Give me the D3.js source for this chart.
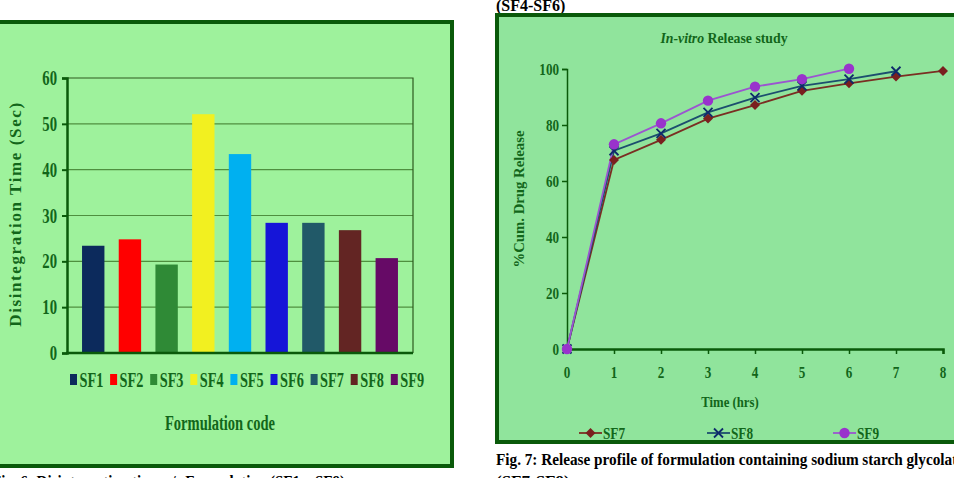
<!DOCTYPE html>
<html><head><meta charset="utf-8">
<script src="https://cdn.jsdelivr.net/npm/d3@7"></script>
<style>
html,body{margin:0;padding:0;background:#fff;overflow:hidden}
text{font-family:"Liberation Serif","Times New Roman",serif;font-weight:bold}
</style></head>
<body>
<svg id="c" width="954" height="478"></svg>
<script>
// ---------- data: left bar chart ----------
const barCategories = ["SF1","SF2","SF3","SF4","SF5","SF6","SF7","SF8","SF9"];
const disintegrationTime = [23.4, 24.8, 19.3, 52.1, 43.4, 28.4, 28.4, 26.8, 20.7];
const barColors = ["#0c2a5c","#ff0000","#2f8a36","#f2f020","#00b0f0","#1515d8","#215968","#632523","#660a66"];
const barYTicks = [0,10,20,30,40,50,60];

// ---------- data: right line chart ----------
const timeHrs = [0,1,2,3,4,5,6,7,8];
const sf7 = [0, 67.5, 74.7, 82.3, 87.1, 92.2, 94.9, 97.3, 99.3];
const sf8 = [0, 70.8, 77.0, 84.5, 89.8, 94.0, 96.4, 99.2];
const sf9 = [0, 73.1, 80.6, 88.7, 93.7, 96.4, 100.1];
const lineSeriesNames = ["SF7","SF8","SF9"];
const lineYTicks = [0,20,40,60,80,100];
const lineXTicks = [0,1,2,3,4,5,6,7,8];

const svg = d3.select("#c");
const dark = "#0a5a0a";
const txt = "#12661a";

function ctext(g, x, y, s, opts) {
  const o = Object.assign({size:16, sx:0.75, anchor:"start", fill:txt, rot:0}, opts||{});
  const t = g.append("text")
    .attr("transform", `translate(${x},${y}) rotate(${o.rot}) scale(${o.sx},1)`)
    .attr("text-anchor", o.anchor)
    .attr("font-size", o.size)
    .attr("fill", o.fill)
    .text(s);
  if (o.ls) t.attr("letter-spacing", o.ls);
  return t;
}

// ================= LEFT CHART =================
const L = svg.append("g");
L.append("rect").attr("x",-6).attr("y",22).attr("width",458).attr("height",444)
  .attr("fill","#9ef29c").attr("stroke",dark).attr("stroke-width",4);

const bx = d3.scaleBand().domain(barCategories).range([67,413]).paddingInner(0.39).paddingOuter(0.41);
const by = d3.scaleLinear().domain([0,60]).range([353,78]);

L.append("g").selectAll("line").data(barYTicks.filter(d=>d>0 && d<60)).join("line")
  .attr("x1",67).attr("x2",413).attr("y1",d=>by(d)).attr("y2",d=>by(d))
  .attr("stroke","#4f8f3f").attr("stroke-width",1.2);
L.append("path").attr("d",`M67,${by(60)}H413V${by(0)}`).attr("fill","none").attr("stroke","#2e5a1e").attr("stroke-width",1.2);

L.append("g").selectAll("rect").data(barCategories).join("rect")
  .attr("x",d=>bx(d)).attr("width",bx.bandwidth())
  .attr("y",(d,i)=>by(disintegrationTime[i]))
  .attr("height",(d,i)=>by(0)-by(disintegrationTime[i]))
  .attr("fill",(d,i)=>barColors[i]);

const yAxL = L.append("g").attr("transform","translate(67,0)")
  .call(d3.axisLeft(by).tickValues(barYTicks).tickSize(5).tickFormat(""));
yAxL.select(".domain").attr("stroke",dark).attr("stroke-width",2.5);
yAxL.selectAll(".tick line").attr("stroke",dark).attr("stroke-width",2);
barYTicks.forEach(v=>ctext(L,57,by(v)+7,String(v),{size:21,sx:0.7,anchor:"end"}));
L.append("line").attr("x1",66).attr("x2",413).attr("y1",by(0)).attr("y2",by(0))
  .attr("stroke",dark).attr("stroke-width",2.5);

ctext(L,21,214,"Disintegration Time (Sec)",{size:17,sx:1,anchor:"middle",rot:-90,ls:1.6});
barCategories.forEach((c,i)=>{
  const x = 70 + i*40.1;
  L.append("rect").attr("x",x).attr("y",374).attr("width",7).attr("height",11).attr("fill",barColors[i]);
  ctext(L,x+9.5,387,c,{size:21,sx:0.68});
});
ctext(L,220,430,"Formulation code",{size:22,sx:0.66,anchor:"middle"});
L.append("text").attr("x",-8).attr("y",487).attr("font-size",16).attr("fill","#000")
  .attr("textLength",353).attr("lengthAdjust","spacingAndGlyphs")
  .text("Fig. 6: Disintegration time v/s Formulation (SF1 – SF9)");

// ================= RIGHT CHART =================
const R = svg.append("g");
R.append("text").attr("x",496).attr("y",11).attr("font-size",16).attr("fill","#000").text("(SF4-SF6)");
R.append("rect").attr("x",497).attr("y",15).attr("width",480).attr("height",427)
  .attr("fill","#90e49c").attr("stroke",dark).attr("stroke-width",4);

const lx = d3.scaleLinear().domain([0,8]).range([567,943]);
const ly = d3.scaleLinear().domain([0,100]).range([349,69]);

const tt = R.append("text").attr("transform","translate(724,43) scale(0.92,1)")
  .attr("text-anchor","middle").attr("font-size",15).attr("fill",txt);
tt.append("tspan").attr("font-style","italic").text("In-vitro");
tt.append("tspan").text(" Release study");

const yAxR = R.append("g").attr("transform",`translate(${lx(0)},0)`)
  .call(d3.axisLeft(ly).tickValues(lineYTicks).tickSize(5).tickFormat(""));
yAxR.select(".domain").attr("stroke",dark).attr("stroke-width",1.5);
yAxR.selectAll(".tick line").attr("stroke",dark).attr("stroke-width",1.5);
lineYTicks.forEach(v=>ctext(R,559,ly(v)+5.5,String(v),{size:16,sx:0.82,anchor:"end"}));

const xAxR = R.append("g").attr("transform",`translate(0,${ly(0)})`)
  .call(d3.axisBottom(lx).tickValues(lineXTicks).tickSize(5).tickFormat(""));
xAxR.select(".domain").attr("stroke",dark).attr("stroke-width",2.5);
xAxR.selectAll(".tick line").attr("stroke",dark).attr("stroke-width",1.5);
lineXTicks.forEach(v=>ctext(R,lx(v),378,String(v),{size:16,sx:0.82,anchor:"middle"}));

ctext(R,730,407,"Time (hrs)",{size:15,sx:0.85,anchor:"middle"});
R.append("text").attr("transform","translate(524,199) rotate(-90)").attr("text-anchor","middle")
  .attr("font-size",15).attr("fill",txt).attr("font-weight","normal")
  .attr("textLength",137).attr("lengthAdjust","spacingAndGlyphs").text("%Cum. Drug Release");

const series = [
  {name:lineSeriesNames[0], vals:sf7, line:"#7a2e22", mark:"#7a1f1f", shape:"diamond"},
  {name:lineSeriesNames[1], vals:sf8, line:"#1c4f6e", mark:"#0e2a6b", shape:"x"},
  {name:lineSeriesNames[2], vals:sf9, line:"#9b55d0", mark:"#9933cc", shape:"circle"}
];
const lineGen = d3.line().x((d,i)=>lx(timeHrs[i])).y(d=>ly(d));

function marker(g, shape, x, y, col) {
  if (shape==="diamond") {
    g.append("path").attr("d",`M${x},${y-5}L${x+5},${y}L${x},${y+5}L${x-5},${y}Z`).attr("fill",col);
  } else if (shape==="x") {
    g.append("path").attr("d",`M${x-4.5},${y-4.5}L${x+4.5},${y+4.5}M${x-4.5},${y+4.5}L${x+4.5},${y-4.5}`)
      .attr("stroke",col).attr("stroke-width",1.8);
  } else {
    g.append("circle").attr("cx",x).attr("cy",y).attr("r",5.2).attr("fill",col);
  }
}

series.forEach(s=>{
  R.append("path").datum(s.vals).attr("d",lineGen).attr("fill","none")
    .attr("stroke",s.line).attr("stroke-width",1.8);
});
series.forEach(s=>{
  s.vals.forEach((v,i)=>marker(R,s.shape,lx(timeHrs[i]),ly(v),s.mark));
});

const legX = [579, 707, 833];
series.forEach((s,i)=>{
  const x = legX[i], y = 433;
  R.append("line").attr("x1",x).attr("x2",x+23).attr("y1",y).attr("y2",y).attr("stroke",s.line).attr("stroke-width",1.8);
  marker(R,s.shape,x+11.5,y,s.mark);
  ctext(R,x+24,439,s.name,{size:17,sx:0.78});
});

R.append("text").attr("x",496).attr("y",465).attr("font-size",17).attr("fill","#000")
  .attr("textLength",468).attr("lengthAdjust","spacingAndGlyphs")
  .text("Fig. 7: Release profile of formulation containing sodium starch glycolate");
R.append("text").attr("x",496).attr("y",487).attr("font-size",17).attr("fill","#000").text("(SF7-SF9)");
</script>
</body></html>
